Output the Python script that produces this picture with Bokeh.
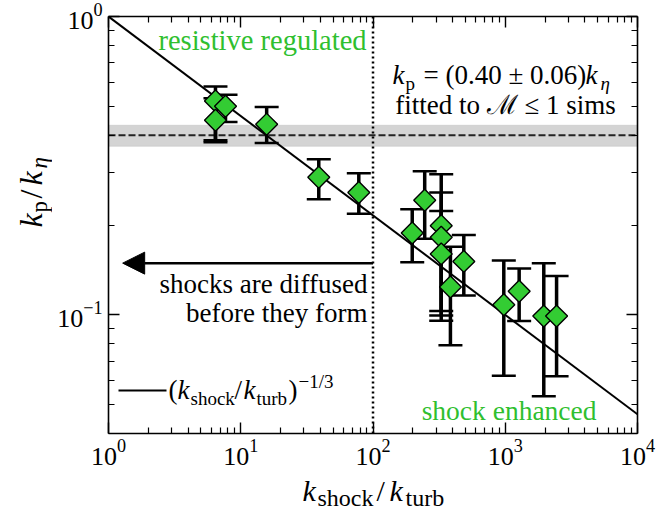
import numpy as np
from bokeh.plotting import figure
from bokeh.layouts import row, column
from bokeh.models import (LogAxis, Label, Span, BoxAnnotation, Arrow, NormalHead,
                          FixedTicker, LogTickFormatter, CustomJSTickFormatter, Range1d)
from bokeh.embed import file_html
from bokeh.resources import INLINE

# ---------------- data ----------------
k_shock_over_k_turb = [6.44, 7.67, 6.44, 15.7, 38.9, 78.1, 198, 246, 328, 328, 328,
                       486, 385, 975, 1274, 1956, 2444]
kp_over_keta = [0.521, 0.500, 0.449, 0.435, 0.289, 0.257, 0.188, 0.242, 0.199, 0.182,
                0.160, 0.151, 0.124, 0.108, 0.120, 0.099, 0.099]
kp_upper = [0.583, 0.547, 0.532, 0.497, 0.332, 0.298, 0.226, 0.303, 0.296, 0.257,
            0.223, 0.185, 0.169, 0.152, 0.143, 0.149, 0.135]
kp_lower = [0.385, 0.443, 0.379, 0.377, 0.244, 0.218, 0.150, 0.180, 0.103, 0.0995,
            0.0955, 0.116, 0.079, 0.0625, 0.0953, 0.0533, 0.0622]

fit_x = [1.0, 1.0e4]          # (k_shock/k_turb)^(-1/3)
fit_y = [1.0, 0.0464]
subsonic_fit = 0.40
subsonic_band = [0.367, 0.432]
shock_boundary = 100.0
arrow_y = 0.149
arrow_x = [100.0, 1.28]

x_major = [1, 10, 100, 1000, 10000]
x_minor = [m * 10.0 ** d for d in range(4) for m in range(2, 10)]
y_major = [0.1, 1.0]
y_minor = [0.04, 0.05, 0.06, 0.07, 0.08, 0.09, 0.2, 0.3, 0.4, 0.5, 0.6, 0.7, 0.8, 0.9]

SERIF = "Liberation Serif"
GREEN = "#2fbf2f"
MARKER_GREEN = "#33cc33"

YLAB_W = 52
MAIN_H = 470

p = figure(width=656 - YLAB_W, height=MAIN_H, x_axis_type="log", y_axis_type="log",
           x_range=Range1d(1, 1e4), y_range=Range1d(0.04, 1.0),
           output_backend="svg", toolbar_location=None,
           min_border_left=108 - YLAB_W, min_border_right=19, min_border_top=16,
           min_border_bottom=MAIN_H - 433)
p.grid.visible = False
p.outline_line_color = None
p.background_fill_color = "white"
p.border_fill_color = "white"

bottom_axis = p.below[0]
left_axis = p.left[0]
top_axis = LogAxis()
right_axis = LogAxis()
p.add_layout(top_axis, "above")
p.add_layout(right_axis, "right")


def style_axis(ax, major, minor, show):
    ax.ticker = FixedTicker(ticks=major, minor_ticks=minor)
    ax.axis_line_color = "black"
    ax.axis_line_width = 1.6
    ax.major_tick_in = 11
    ax.major_tick_out = 0
    ax.minor_tick_in = 6
    ax.minor_tick_out = 0
    ax.major_tick_line_width = 1.4
    ax.minor_tick_line_width = 1.2
    ax.major_tick_line_color = "black"
    ax.minor_tick_line_color = "black"
    if show:
        ax.formatter = LogTickFormatter()
        ax.major_label_text_font = SERIF
        ax.major_label_text_font_size = "26px"
        ax.major_label_text_color = "black"
        ax.major_label_standoff = 6
    else:
        ax.formatter = CustomJSTickFormatter(code="return ''")
        ax.major_label_text_font_size = "1px"
        ax.major_label_standoff = 0


style_axis(bottom_axis, x_major, x_minor, True)
style_axis(left_axis, y_major, y_minor, True)
style_axis(top_axis, x_major, x_minor, False)
style_axis(right_axis, y_major, y_minor, False)

# grey band + dashed subsonic fit + Mach boundary
p.add_layout(BoxAnnotation(bottom=subsonic_band[0], top=subsonic_band[1],
                           fill_color="#d4d4d4", fill_alpha=1.0,
                           line_color="#a8a8a8", line_width=1, level="underlay"))
p.add_layout(Span(location=subsonic_fit, dimension="width", line_color="#222222",
                  line_width=2, line_dash="7 3", level="underlay"))
p.add_layout(Span(location=shock_boundary, dimension="height", line_color="black",
                  line_width=2.5, line_dash="2 3", level="underlay"))

# power-law fit
p.line(fit_x, fit_y, line_color="black", line_width=2)

# error bars
p.segment(x0=k_shock_over_k_turb, y0=kp_lower, x1=k_shock_over_k_turb, y1=kp_upper,
          line_color="black", line_width=3.5)
p.scatter(k_shock_over_k_turb, kp_upper, marker="dash", size=24, line_width=2.5,
          line_color="black")
p.scatter(k_shock_over_k_turb, kp_lower, marker="dash", size=24, line_width=2.5,
          line_color="black")

# diamonds
p.scatter(k_shock_over_k_turb, kp_over_keta, marker="square", angle=np.pi / 4,
          size=15.5, fill_color=MARKER_GREEN, line_color="black", line_width=1.4)

# arrow
p.add_layout(Arrow(x_start=arrow_x[0], y_start=arrow_y, x_end=arrow_x[1], y_end=arrow_y,
                   line_color="black", line_width=2.5,
                   end=NormalHead(size=22, fill_color="black", line_color="black")))


def make_label(fig, X0, Y0, text, X, Y, size, color="black", align="left",
               style="normal", angle=0.0):
    """X, Y: page pixel position of the text baseline start; X0, Y0: page
    position of the figure frame's left / bottom edge."""
    shift = 0.33 * size
    if angle:
        dx, dy = -shift, 0.0
    else:
        dx, dy = 0.0, shift
    fig.add_layout(Label(x=X - X0 + dx, y=Y0 - Y + dy, x_units="screen", y_units="screen",
                         text=text, text_font=SERIF, text_font_size=f"{size}px",
                         text_font_style=style, text_color=color, text_align=align,
                         text_baseline="alphabetic", angle=angle))


def label(*a, **k):
    make_label(p, 108, 433, *a, **k)


label("resistive regulated", 262, 49, 28.5, GREEN, "center")
label("k", 392, 83, 27, style="italic")
label("p", 405, 89, 19)
label("= (0.40 ± 0.06)", 423, 83, 27)
label("k", 585, 83, 27, style="italic")
label("η", 600, 89, 19, style="italic")
label("fitted to ℳ ≤ 1 sims", 505, 113, 27, align="center")
label("shocks are diffused", 367, 292, 27, align="right")
label("before they form", 367, 321, 27, align="right")
label("shock enhanced", 596, 419, 27.5, GREEN, "right")

# legend
p.add_layout(Arrow(x_start=118 - 108, y_start=433 - 390, x_end=166 - 108, y_end=433 - 390,
                   start_units="screen", end_units="screen", start=None, end=None,
                   line_color="black", line_width=2))
label("(", 168, 398, 27)
label("k", 177, 398, 27, style="italic")
label("shock", 190, 404, 19)
label("/", 234, 398, 27)
label("k", 243, 398, 27, style="italic")
label("turb", 256, 404, 19)
label(")", 288, 398, 27)
label("−1/3", 298, 387, 19)


def blank_fig(w, h):
    f = figure(width=w, height=h, x_range=Range1d(0, 1), y_range=Range1d(0, 1),
               output_backend="svg", toolbar_location=None,
               x_axis_location=None, y_axis_location=None,
               min_border=0, min_border_left=0, min_border_right=0,
               min_border_top=0, min_border_bottom=0)
    f.xgrid.visible = False
    f.ygrid.visible = False
    f.grid.visible = False
    f.outline_line_color = None
    f.background_fill_color = "white"
    f.border_fill_color = "white"
    return f


# y axis label panel (page x 0..YLAB_W, y 0..MAIN_H)
ylab = blank_fig(YLAB_W, MAIN_H)
A = np.pi / 2
for t, X, Y, s, st in [("k", 41, 264, 32, "italic"), ("p", 47, 249, 23, "normal"),
                       ("/", 41, 235, 32, "normal"), ("k", 41, 222, 32, "italic"),
                       ("η", 47, 205, 23, "italic")]:
    make_label(ylab, 0, MAIN_H, t, X, Y, s, style=st, angle=A)

# x axis label panel (page x 0..656, y MAIN_H..512)
xlab = blank_fig(656, 512 - MAIN_H)
for t, X, Y, s, st in [("k", 302, 500, 30, "italic"), ("shock", 317, 505, 24, "normal"),
                       ("/", 376, 500, 30, "normal"), ("k", 389, 500, 30, "italic"),
                       ("turb", 405, 505, 24, "normal")]:
    make_label(xlab, 0, 512, t, X, Y, s, style=st)

layout = column(row(ylab, p), xlab)
open("out.html", "w").write(file_html(layout, INLINE))
